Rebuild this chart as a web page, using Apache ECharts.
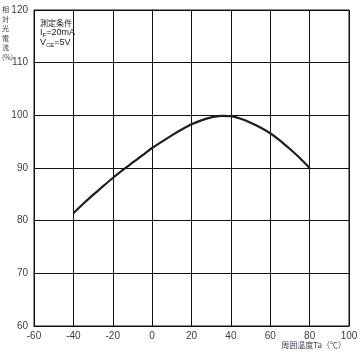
<!DOCTYPE html>
<html><head><meta charset="utf-8">
<script src="https://cdn.jsdelivr.net/npm/echarts@6/dist/echarts.min.js"></script>
<style>html,body{margin:0;padding:0;background:#fff}#c{width:363px;height:358px}</style>
</head><body><div id="c"></div>
<script>
const temps = [-40, -35, -30, -25, -20, -15, -10, -5, 0, 5, 10, 15, 20, 25, 30, 35, 40, 45, 50, 55, 60, 65, 70, 75, 80];
const current = [81.4, 83.2, 84.9, 86.5, 88.1, 89.6, 91.0, 92.4, 93.8, 95.0, 96.2, 97.3, 98.3, 99.05, 99.6, 99.9, 99.85, 99.35, 98.6, 97.7, 96.6, 95.2, 93.6, 91.9, 90.0];
const xTicks = {min: -60, max: 100, step: 20};
const yTicks = {min: 60, max: 120, step: 10};
const yTitle = ['相','対','光','電','流','(%)'];
const xTitle = '周囲温度Ta（℃）';

const chart = echarts.init(document.getElementById('c'));
const labelColor = '#3b3b4f';
chart.setOption({
  animation: false,
  grid: {left: 34, right: 14, top: 10, bottom: 32, show: true, borderColor: '#111', borderWidth: 1},
  xAxis: {
    type: 'value', min: xTicks.min, max: xTicks.max, interval: xTicks.step,
    axisLine: {lineStyle: {color: '#111', width: 1}},
    axisTick: {show: false},
    axisLabel: {color: labelColor, fontSize: 10, fontFamily: 'Liberation Sans', margin: 5},
    splitLine: {show: true, lineStyle: {color: '#111', width: 1}}
  },
  yAxis: {
    type: 'value', min: yTicks.min, max: yTicks.max, interval: yTicks.step,
    axisLine: {show: true, lineStyle: {color: '#111', width: 1}},
    axisTick: {show: false},
    axisLabel: {color: labelColor, fontSize: 10, fontFamily: 'Liberation Sans', margin: 6},
    splitLine: {show: true, lineStyle: {color: '#111', width: 1}}
  },
  series: [{
    type: 'line', data: temps.map((t, i) => [t, current[i]]),
    smooth: 0.3, symbol: 'none',
    lineStyle: {color: '#1e1e1e', width: 2.2}
  }],
  graphic: [
    {type: 'text', left: 2, top: 5, style: {text: yTitle.join('\n'), font: '7px "Noto Sans CJK JP"', fill: labelColor, lineHeight: 9.5, align: 'center'}},
    {type: 'text', left: 40, top: 18, style: {
      text: '測定条件\n{m|I}{s|F}{m|=20mA}\n{m|V}{s|CE}{m|=5V}',
      font: '8px "Noto Sans CJK JP"', fill: '#222', lineHeight: 10,
      rich: {m: {fontSize: 9, fontFamily: 'Liberation Sans', fill: '#222', lineHeight: 10},
             s: {fontSize: 6, fontFamily: 'Liberation Sans', fill: '#222', lineHeight: 10, verticalAlign: 'bottom'}}
    }},
    {type: 'text', right: 17, top: 341, style: {text: xTitle, font: '8px "Noto Sans CJK JP"', fill: labelColor}}
  ]
});
</script></body></html>
